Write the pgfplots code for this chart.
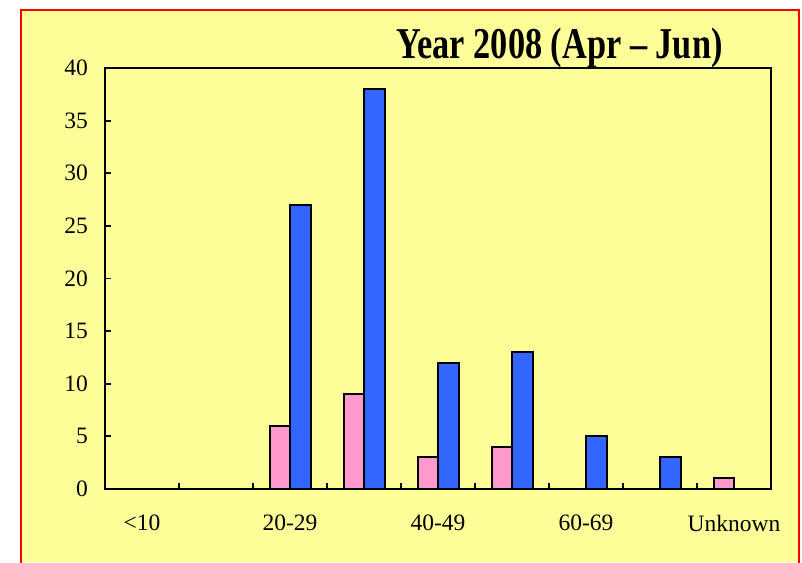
\documentclass[border=0pt]{standalone}
\usepackage{pgfplots}
\pgfplotsset{compat=1.18}
\usepackage{fontspec}
\setmainfont{Liberation Serif}
\usepackage{graphicx}
\definecolor{bgyellow}{HTML}{FFFF99}
\definecolor{agepink}{HTML}{FF99CC}
\definecolor{ageblue}{HTML}{3366FF}
\definecolor{frame}{HTML}{FF0000}

\begin{document}
\begin{tikzpicture}[x=0.5pt,y=0.5pt]
% page is 802 x 562 px, 1px = 0.5pt
\path[use as bounding box] (0,0) rectangle (802,562);
\fill[bgyellow] (21,0) rectangle (799,552);
\draw[frame, line width=1.1pt] (21,-5) -- (21,552) -- (799,552) -- (799,-5);

\node[anchor=base east, inner sep=0] at (723,503)
  {\scalebox{0.78}[1]{\fontsize{22pt}{26pt}\selectfont\bfseries Year 2008 (Apr -- Jun)}};

\begin{axis}[
  at={(52.5pt,36.5pt)}, anchor=south west,
  scale only axis,
  width=333pt, height=210.5pt,
  xmin=-0.5, xmax=8.5,
  ymin=0, ymax=40,
  ytick={0,5,...,40},
  xtick={0.5,1.5,...,7.5},
  xticklabels={},
  extra x ticks={0,2,4,6,8},
  extra x tick labels={<10,20-29,40-49,60-69,Unknown},
  extra x tick style={major tick length=0pt},
  xtick pos=bottom, ytick pos=left,
  tick align=inside,
  major tick length=3pt,
  axis line style={line width=1.1pt},
  every tick/.style={black, line width=0.9pt},
  /pgf/number format/assume math mode=true,
  tick label style={font=\fontsize{11.75pt}{13.5pt}\selectfont, text=black},
  xticklabel style={yshift=-9.5pt},
  yticklabel style={xshift=-5pt},
  bar width=10.25pt,
]
\addplot[ybar, bar shift=-5.125pt, fill=agepink, draw=black, line width=1pt]
  coordinates {(2,6) (3,9) (4,3) (5,4) (8,1)};
\addplot[ybar, bar shift=5.125pt, fill=ageblue, draw=black, line width=1pt]
  coordinates {(2,27) (3,38) (4,12) (5,13) (6,5) (7,3)};
\end{axis}
\end{tikzpicture}
\end{document}
